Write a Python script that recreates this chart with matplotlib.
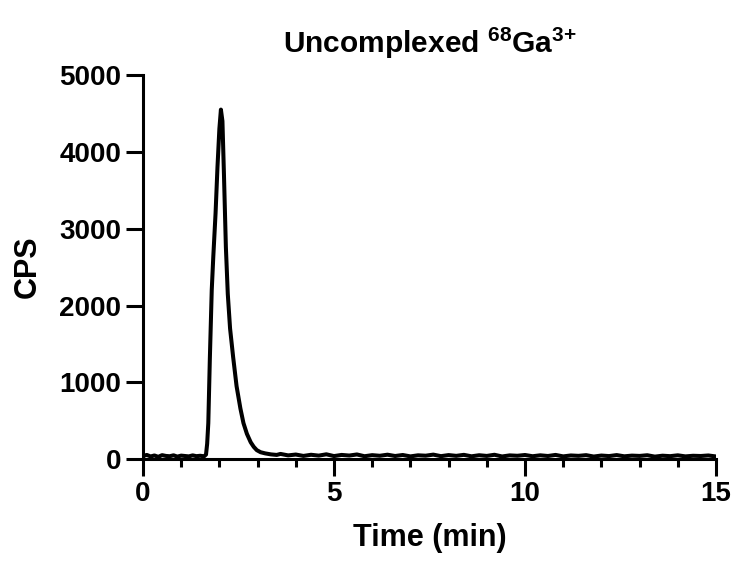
import matplotlib.pyplot as plt
from matplotlib.ticker import MultipleLocator

plt.rcParams['font.family'] = ['Liberation Sans', 'DejaVu Sans']
plt.rcParams['font.weight'] = 'bold'
plt.rcParams['mathtext.fontset'] = 'custom'
plt.rcParams['mathtext.rm'] = 'Liberation Sans:bold'
plt.rcParams['mathtext.bf'] = 'Liberation Sans:bold'
plt.rcParams['mathtext.default'] = 'bf'

# radio-HPLC trace
time_min = [0.0, 0.1, 0.2, 0.3, 0.4, 0.5, 0.6, 0.7, 0.8, 0.9, 1.0, 1.1, 1.2,
            1.3, 1.4, 1.5, 1.6,
            1.65, 1.68, 1.71, 1.75, 1.80, 1.84, 1.90, 1.95, 2.00, 2.04, 2.08,
            2.12, 2.17, 2.22, 2.28, 2.36, 2.45, 2.55, 2.63, 2.72, 2.82, 2.90,
            2.98, 3.08, 3.2, 3.35, 3.5,
            3.6, 3.8, 4.0, 4.2, 4.4, 4.6, 4.8, 5.0, 5.2, 5.4, 5.6, 5.8, 6.0,
            6.2, 6.4, 6.6, 6.8, 7.0, 7.2, 7.4, 7.6, 7.8, 8.0, 8.2, 8.4, 8.6,
            8.8, 9.0, 9.2, 9.4, 9.6, 9.8, 10.0, 10.2, 10.4, 10.6, 10.8, 11.0,
            11.2, 11.4, 11.6, 11.8, 12.0, 12.2, 12.4, 12.6, 12.8, 13.0, 13.2,
            13.4, 13.6, 13.8, 14.0, 14.2, 14.4, 14.6, 14.8, 15.0]
cps = [40, 55, 35, 48, 30, 52, 42, 38, 50, 33, 46, 41, 36,
       49, 39, 44, 37,
       60, 200, 470, 1300, 2200, 2630, 3200, 3800, 4300, 4550, 4400,
       3700, 2760, 2150, 1700, 1330, 950, 660, 470, 330, 220, 160,
       117, 90, 75, 62, 55,
       68, 49, 60, 42, 57, 46, 63, 40, 55, 47, 61, 38, 52,
       44, 58, 41, 54, 36, 50, 45, 59, 39, 53, 43, 56, 37,
       51, 42, 57, 35, 49, 44, 54, 38, 50, 41, 55, 36,
       48, 43, 52, 34, 47, 40, 53, 37, 46, 42, 51, 33,
       45, 39, 50, 36, 44, 41, 48, 35]

fig = plt.figure(figsize=(7.37, 5.62), dpi=100)
ax = fig.add_axes([0.194, 0.183, 0.7775, 0.6835])

ax.plot(time_min, cps, color='black', lw=2.9, solid_joinstyle='round')

ax.set_xlim(0, 15)
ax.set_ylim(0, 5000)
ax.xaxis.set_major_locator(MultipleLocator(5))
ax.xaxis.set_minor_locator(MultipleLocator(1))
ax.yaxis.set_major_locator(MultipleLocator(1000))

for s in ['top', 'right']:
    ax.spines[s].set_visible(False)
for s in ['left', 'bottom']:
    ax.spines[s].set_linewidth(2.2)

ax.tick_params(axis='x', which='major', length=12, width=2.2, pad=4, labelsize=20)
ax.tick_params(axis='x', which='minor', length=6, width=2.2)
ax.tick_params(axis='y', which='major', length=12, width=2.2, pad=3.5, labelsize=20)
for lab in ax.get_xticklabels() + ax.get_yticklabels():
    lab.set_fontweight('bold')

ax.set_xlabel('Time (min)', fontsize=22, fontweight='bold', labelpad=11)
ax.set_ylabel('CPS', fontsize=22, fontweight='bold', labelpad=12)
ax.set_title(r'Uncomplexed $^{68}$Ga$^{3{+}}$', fontsize=21.5, fontweight='bold', pad=16)

fig.savefig('out.png', dpi=100)
